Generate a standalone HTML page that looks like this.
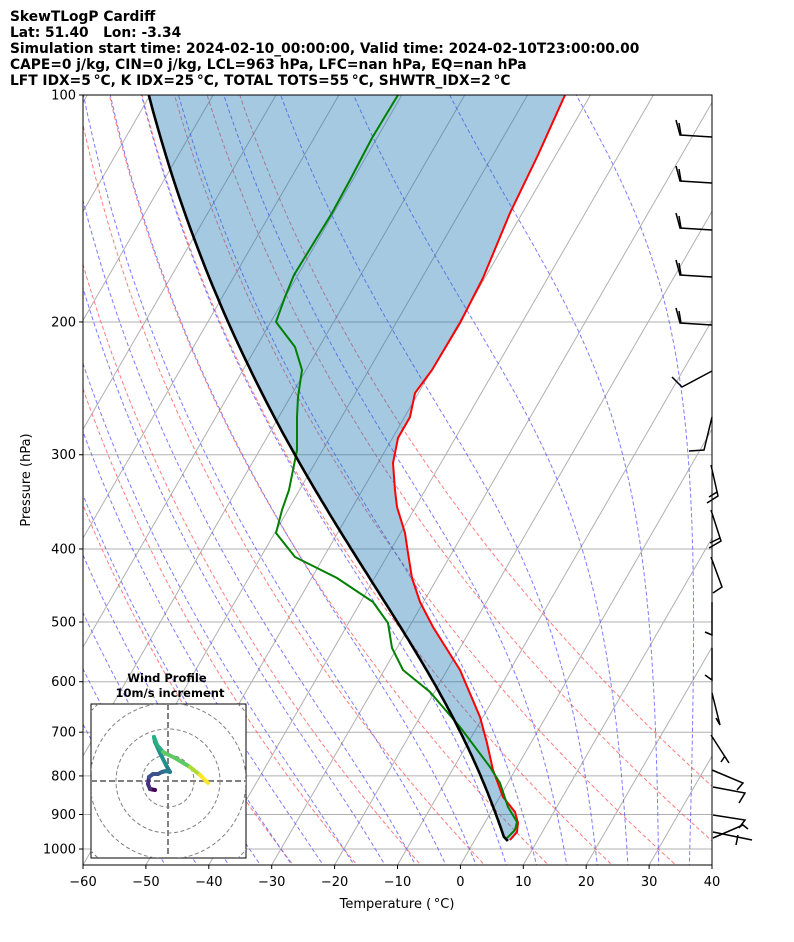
<!DOCTYPE html>
<html><head><meta charset="utf-8"><style>
body{margin:0;background:#fff;width:794px;height:937px;overflow:hidden;font-family:"Liberation Sans","DejaVu Sans",sans-serif}
svg text{font-family:"DejaVu Sans","Liberation Sans",sans-serif;white-space:pre}
</style></head><body>
<svg id="s" width="794" height="937" xmlns="http://www.w3.org/2000/svg">
<defs><clipPath id="c"><rect x="83" y="95" width="629" height="770"/></clipPath>
<clipPath id="h"><rect x="91" y="704" width="155" height="154"/></clipPath></defs>
<g font-size="13.8" font-weight="bold" fill="#000">
<text x="10" y="21">SkewTLogP Cardiff</text>
<text x="10" y="37">Lat: 51.40   Lon: -3.34</text>
<text x="10" y="53">Simulation start time: 2024-02-10_00:00:00, Valid time: 2024-02-10T23:00:00.00</text>
<text x="10" y="69">CAPE=0 j/kg, CIN=0 j/kg, LCL=963 hPa, LFC=nan hPa, EQ=nan hPa</text>
<text x="10" y="85">LFT IDX=5 °C, K IDX=25 °C, TOTAL TOTS=55 °C, SHWTR_IDX=2 °C</text>
</g>
<g id="plot" clip-path="url(#c)"></g>
<g id="ax"></g>
<g id="barbs" stroke="#000" stroke-width="1.5" fill="none"></g>
<g id="hodo"></g>
</svg>
<script>
var t5=document.querySelectorAll('text')[4];t5.textContent='LFT IDX=5\u2009\u00b0C, K IDX=25\u2009\u00b0C, TOTAL TOTS=55\u2009\u00b0C, SHWTR_IDX=2\u2009\u00b0C';
var NS='http://www.w3.org/2000/svg';
function el(p,n,a,txt){var e=document.createElementNS(NS,n);for(var k in a)e.setAttribute(k,a[k]);if(txt!=null)e.textContent=txt;p.appendChild(e);return e;}
function Y(p){return 95+754*Math.log10(p/100);}
function X(T,p){return 83+(T+60)*6.29+(865-Y(p))*0.5774;}
var plot=document.getElementById('plot'),ax=document.getElementById('ax');
function pl(pts,a){a=a||{};a.points=pts.map(function(q){return q[0].toFixed(1)+','+q[1].toFixed(1)}).join(' ');a.fill=a.fill||'none';return el(plot,'polyline',a);}
var ps=[];for(var p=1060;p>=95;p*=0.985)ps.push(p);
for(var p=100;p<=1000;p+=100)el(plot,'line',{x1:83,x2:712,y1:Y(p),y2:Y(p),stroke:'#b0b0b0','stroke-width':1});
for(var T=-200;T<=60;T+=10){pl([[X(T,1060),Y(1060)],[X(T,95),Y(95)]],{stroke:'#b0b0b0','stroke-width':1});}
for(var t0=-30;t0<=50;t0+=10){var th=t0+273.15;pl(ps.map(function(p){return [X(th*Math.pow(p/1000,0.2857)-273.15,p),Y(p)]}),{stroke:'#ff5050','stroke-opacity':0.75,'stroke-width':1,'stroke-dasharray':'4,2.5'});}
function es(T){return 6.112*Math.exp(17.67*T/(T+243.5));}
function dTdp(T,p){var Tk=T+273.15,e=es(T),rs=0.622*e/(p-e);return (287.04*Tk+2.501e6*rs)/(p*(1005.7+2.501e6*2.501e6*rs*0.622/(287.04*Tk*Tk)));}
function moist(T0,p0,pend){var out=[],T=T0,p=p0,dir=pend<p0?-1:1,dp=0.5*dir;out.push([T,p]);while(dir<0?p>pend:p<pend){var k1=dTdp(T,p),k2=dTdp(T+k1*dp/2,p+dp/2),k3=dTdp(T+k2*dp/2,p+dp/2),k4=dTdp(T+k3*dp,p+dp);T+=dp*(k1+2*k2+2*k3+k4)/6;p+=dp;if(Math.round(p*2)%10==0)out.push([T,p]);}out.push([T,p]);return out;}
for(var t0=-50;t0<=45;t0+=5){var up=moist(t0,1000,95),dn=moist(t0,1000,1060).reverse();var all=dn.concat(up);pl(all.map(function(q){return [X(q[0],q[1]),Y(q[1])]}),{stroke:'#5050ff','stroke-opacity':0.75,'stroke-width':1,'stroke-dasharray':'4,2.5'});}
var ps0=976,T0=5.36,plcl=963,Tl=(T0+273.15)*Math.pow(plcl/ps0,0.2857)-273.15;
var par=[[X(T0,ps0),Y(ps0)]].concat(moist(Tl,plcl,95).map(function(q){return [X(q[0],q[1]),Y(q[1])]}));
var temp=[[565,95],[538,155],[510,213],[483,278],[460,323],[432,370],[415,393],[410,417],[398,438],[393,463],[395,490],[397,507],[405,533],[408,553],[412,578],[420,602],[433,627],[460,670],[480,717],[487,743],[493,770],[503,797],[515,812],[518,823],[517,832],[510,840]];
var dew=[[398,95],[372,138],[350,180],[332,213],[294,275],[285,297],[276,322],[295,347],[302,370],[298,397],[297,417],[297,450],[293,470],[289,490],[282,510],[276,533],[295,557],[337,578],[373,602],[388,623],[392,648],[403,670],[430,692],[460,727],[490,767],[500,783],[508,807],[517,822],[515,830],[505,840]];
var poly=temp.concat(par);
el(plot,'polygon',{points:poly.map(function(q){return q[0].toFixed(1)+','+q[1].toFixed(1)}).join(' '),fill:'#1f77b4','fill-opacity':0.4,stroke:'none'});
pl(temp,{stroke:'#ff0000','stroke-width':2});
pl(dew,{stroke:'#008000','stroke-width':2});
pl(par,{stroke:'#000','stroke-width':2.6});
el(ax,'rect',{x:83,y:95,width:629,height:770,fill:'none',stroke:'#000','stroke-width':1});
for(var p=100;p<=1000;p+=100){var y=Y(p);el(ax,'line',{x1:79,x2:83,y1:y,y2:y,stroke:'#000'});el(ax,'text',{x:76,y:y+4.5,'text-anchor':'end','font-size':13},String(p));}
for(var T=-60;T<=40;T+=10){var x=83+(T+60)*6.29;el(ax,'line',{x1:x,x2:x,y1:865,y2:869,stroke:'#000'});el(ax,'text',{x:x,y:886,'text-anchor':'middle','font-size':13},(T<0?'\u2212'+(-T):String(T)));}
el(ax,'text',{x:397,y:908,'text-anchor':'middle','font-size':13},'Temperature (\u2009\u00b0C)');
el(ax,'text',{x:0,y:0,'text-anchor':'middle','font-size':13,transform:'translate(30,480) rotate(-90)'},'Pressure (hPa)');
var B=document.getElementById('barbs');
function L(a){el(B,'polyline',{points:a.map(function(q){return q.join(',')}).join(' ')});}
[137,183,230,277,325].forEach(function(y){L([[712,y],[680,y-2],[676,y-17]]);L([[681,y-2],[679,y-14]]);});
L([[712,371],[682,387],[672,377]]);
L([[712,417],[704,450],[689,451]]);
L([[711,465],[718,496],[707,503]]);L([[717,492],[709,497]]);
L([[711,510],[721,541],[709,548]]);L([[720,538],[710,543]]);
L([[711,557],[722,587],[713,593]]);
L([[712,602],[712,635],[705,632]]);
L([[712,648],[712,680],[705,675]]);
L([[712,693],[720,725],[716,718]]);
L([[711,735],[729,763]]);L([[725,756],[721,762]]);
L([[712,770],[743,783],[737,790]]);
L([[713,787],[745,793],[739,803]]);
L([[713,815],[745,820],[739,828]]);
L([[713,838],[743,825],[748,829]]);
L([[713,832],[752,840]]);L([[738,835],[736,845]]);
var H=document.getElementById('hodo');
el(H,'rect',{x:91,y:704,width:155,height:154,fill:'#fff',stroke:'#000','stroke-width':1});
var hg=el(H,'g',{'clip-path':'url(#h)'});
[26,52,78,104].forEach(function(r){el(hg,'circle',{cx:168,cy:781,r:r,fill:'none',stroke:'#808080','stroke-width':1,'stroke-dasharray':'4,2.5'});});
el(hg,'line',{x1:91,x2:246,y1:781,y2:781,stroke:'#808080','stroke-width':2,'stroke-dasharray':'6,3'});
el(hg,'line',{x1:168,x2:168,y1:704,y2:858,stroke:'#808080','stroke-width':2,'stroke-dasharray':'6,3'});
var hp=[[155,790],[150,789],[148,784],[149,777],[153,774],[158,774],[162,772],[166,771],[170,772],[166,765],[160,753],[155,742],[154,737],[157,745],[163,752],[175,758],[190,767],[200,775],[208,783]];
var cols=['#440154','#440154','#46317e','#46317e','#3b528b','#3b528b','#3b528b','#30688e','#287d8e','#287d8e','#21918c','#21918c','#21918c','#29af7f','#29af7f','#5ec962','#5ec962','#addc30','#fde725'];
for(var i=0;i<hp.length-1;i++)el(hg,'line',{x1:hp[i][0],y1:hp[i][1],x2:hp[i+1][0],y2:hp[i+1][1],stroke:cols[i+1],'stroke-width':4,'stroke-linecap':'round'});
el(H,'text',{x:167,y:682,'text-anchor':'middle','font-size':11.5,'font-weight':'bold'},'Wind Profile');
el(H,'text',{x:170,y:697,'text-anchor':'middle','font-size':11.5,'font-weight':'bold'},'10m/s increment');
</script>
</body></html>
